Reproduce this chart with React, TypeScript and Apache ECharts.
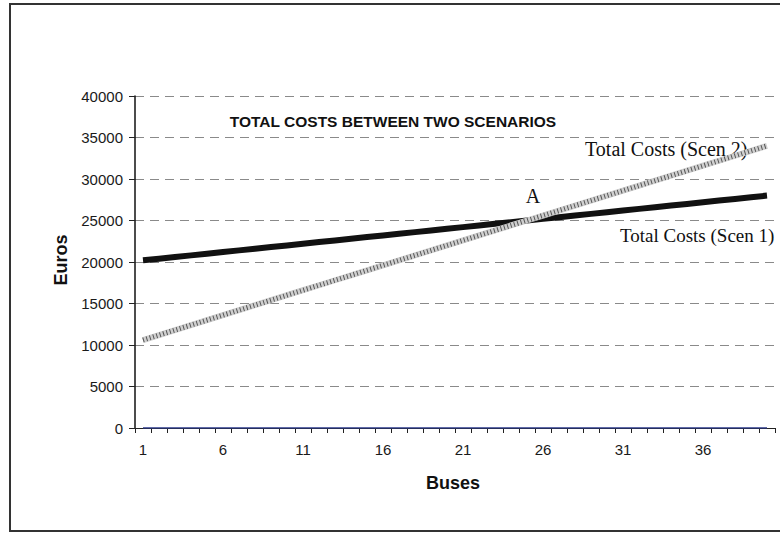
import React, { useEffect, useRef } from "react";
import * as echarts from "echarts";

const buses = ["1","2","3","4","5","6","7","8","9","10","11","12","13","14","15","16","17","18","19","20","21","22","23","24","25","26","27","28","29","30","31","32","33","34","35","36","37","38","39","40"];
const scen1 = [20200,20400,20600,20800,21000,21200,21400,21600,21800,22000,22200,22400,22600,22800,23000,23200,23400,23600,23800,24000,24200,24400,24600,24800,25000,25200,25400,25600,25800,26000,26200,26400,26600,26800,27000,27200,27400,27600,27800,28000];
const scen2 = [10600,11200,11800,12400,13000,13600,14200,14800,15400,16000,16600,17200,17800,18400,19000,19600,20200,20800,21400,22000,22600,23200,23800,24400,25000,25600,26200,26800,27400,28000,28600,29200,29800,30400,31000,31600,32200,32800,33400,34000];
const baseline = [0,0,0,0,0,0,0,0,0,0,0,0,0,0,0,0,0,0,0,0,0,0,0,0,0,0,0,0,0,0,0,0,0,0,0,0,0,0,0,0];

const title = "TOTAL COSTS BETWEEN TWO SCENARIOS";
const label1 = "Total Costs (Scen 1)";
const label2 = "Total Costs (Scen 2)";
const pointLabel = "A";
const yName = "Euros";
const xName = "Buses";

export default function App() {
  const ref = useRef<HTMLDivElement>(null);
  useEffect(() => {
    if (!ref.current) return;
    const chart = echarts.init(ref.current, null, { renderer: "svg" });
    const sans = "'Liberation Sans', Arial, sans-serif";
    const serif = "'Liberation Serif', 'Times New Roman', serif";
    chart.setOption({
      animation: false,
      backgroundColor: "#ffffff",
      grid: { left: 135, right: 5, top: 96, bottom: 107 },
      xAxis: {
        type: "category",
        data: buses,
        boundaryGap: true,
        axisLine: { show: true, lineStyle: { color: "#222", width: 1.2 } },
        axisTick: { show: true, interval: 0, length: 5, lineStyle: { color: "#222" } },
        axisLabel: { interval: 4, margin: 14, color: "#1a1a1a", fontFamily: sans, fontSize: 15 },
        splitLine: { show: false },
      },
      yAxis: {
        type: "value",
        min: 0,
        max: 40000,
        interval: 5000,
        axisLine: { show: true, lineStyle: { color: "#111", width: 1.5 } },
        axisTick: { show: true, length: 6, lineStyle: { color: "#222" } },
        axisLabel: { margin: 12, color: "#1a1a1a", fontFamily: sans, fontSize: 15, formatter: (v: number) => String(v) },
        splitLine: { show: true, lineStyle: { color: "#8a8a8a", type: [9, 6], width: 1 } },
      },
      series: [
        {
          name: "zero",
          type: "line",
          data: baseline,
          showSymbol: false,
          lineStyle: { color: "#2c3a8c", width: 1.5 },
          z: 3,
        },
        {
          name: label1,
          type: "line",
          data: scen1,
          showSymbol: false,
          lineStyle: { color: "#111", width: 6, cap: "butt" },
          z: 4,
        },
        {
          name: label2,
          type: "line",
          data: scen2,
          showSymbol: false,
          lineStyle: { color: "#cfcfcf", width: 6, cap: "butt" },
          z: 5,
        },
        {
          name: label2 + " hatch",
          type: "line",
          data: scen2,
          showSymbol: false,
          lineStyle: { color: "#555", width: 5, type: [1, 2.5], cap: "butt" },
          z: 6,
        },
      ],
      graphic: [
        { type: "rect", shape: { x: 10, y: 4, width: 800, height: 527 }, style: { fill: "none", stroke: "#333", lineWidth: 2 }, silent: true },
        { type: "text", x: 393, y: 121, style: { text: title, font: `bold 15.5px ${sans}`, fill: "#111", textAlign: "center", textVerticalAlign: "middle" } },
        { type: "text", x: 585, y: 149, style: { text: label2, font: `20px ${serif}`, fill: "#111", textAlign: "left", textVerticalAlign: "middle" } },
        { type: "text", x: 620, y: 235, style: { text: label1, font: `19px ${serif}`, fill: "#111", textAlign: "left", textVerticalAlign: "middle" } },
        { type: "text", x: 533, y: 196, style: { text: pointLabel, font: `20px ${serif}`, fill: "#111", textAlign: "center", textVerticalAlign: "middle" } },
        { type: "text", x: 453, y: 483, style: { text: xName, font: `bold 18px ${sans}`, fill: "#111", textAlign: "center", textVerticalAlign: "middle" } },
        { type: "text", x: 61, y: 260, rotation: Math.PI / 2, style: { text: yName, font: `bold 18px ${sans}`, fill: "#111", textAlign: "center", textVerticalAlign: "middle" } },
      ],
    });
    return () => chart.dispose();
  }, []);
  return <div ref={ref} style={{ position: "fixed", left: 0, top: 0, width: 780, height: 535 }} />;
}
